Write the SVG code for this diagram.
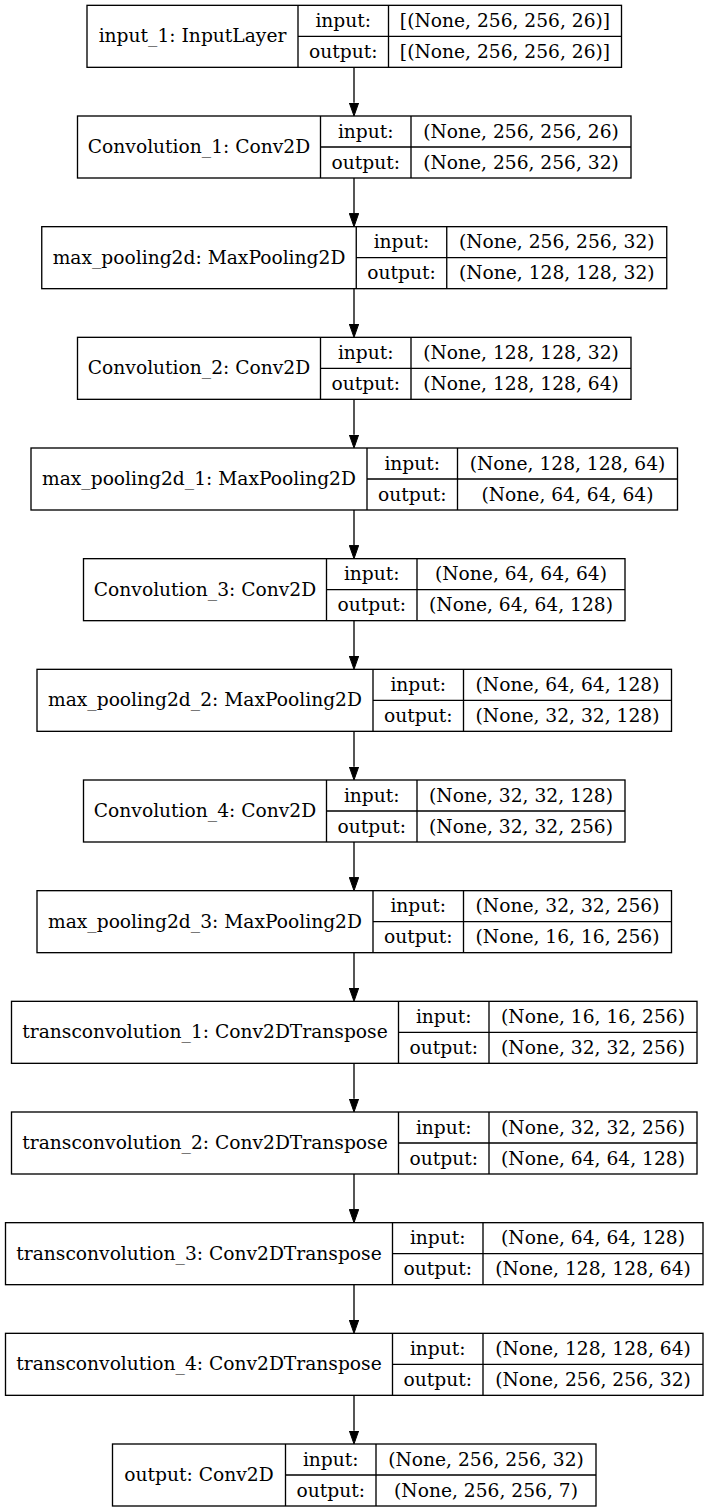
<svg xmlns="http://www.w3.org/2000/svg" width="708" height="1512" viewBox="0 0 708 1512">
<style>
.box{fill:#fff;stroke:#000;stroke-width:1.33}
.ln{fill:none;stroke:#000;stroke-width:1.33}
.t{font-family:"DejaVu Serif",serif;font-size:18.67px;text-anchor:middle;fill:#000}
.e{fill:none;stroke:#000;stroke-width:1.33;marker-end:url(#ah)}
</style>
<defs>
<marker id="ah" markerUnits="userSpaceOnUse" markerWidth="14" markerHeight="10" refX="0" refY="5" orient="auto" viewBox="0 0 14 10">
<path d="M0,0.3 L13.3,5 L0,9.7 z" fill="#000" stroke="#000" stroke-width="1"/>
</marker>
</defs>
<rect x="0" y="0" width="708" height="1512" fill="#fff"/>
<g id="connectors">
<path class="e" d="M354,67.33 V102.7"/>
<path class="e" d="M354,178 V213.37"/>
<path class="e" d="M354,288.67 V324.03"/>
<path class="e" d="M354,399.33 V434.7"/>
<path class="e" d="M354,510 V545.37"/>
<path class="e" d="M354,620.67 V656.03"/>
<path class="e" d="M354,731.33 V766.7"/>
<path class="e" d="M354,842 V877.37"/>
<path class="e" d="M354,952.67 V988.03"/>
<path class="e" d="M354,1063.33 V1098.7"/>
<path class="e" d="M354,1174 V1209.37"/>
<path class="e" d="M354,1284.67 V1320.03"/>
<path class="e" d="M354,1395.33 V1430.7"/>
</g>
<g id="n0" transform="translate(0,5.33)">
<rect class="box" x="87" y="0" width="534.5" height="62"/>
<path class="ln" d="M298,0V62M388.5,0V62M298,31H621.5"/>
<text class="t" x="192.5" y="37">input_1: InputLayer</text>
<text class="t" x="343.25" y="21.5">input:</text>
<text class="t" x="343.25" y="52.5">output:</text>
<text class="t" x="505" y="21.5">[(None, 256, 256, 26)]</text>
<text class="t" x="505" y="52.5">[(None, 256, 256, 26)]</text>
</g>
<g id="n1" transform="translate(0,116)">
<rect class="box" x="77.5" y="0" width="553.5" height="62"/>
<path class="ln" d="M320.5,0V62M411,0V62M320.5,31H631"/>
<text class="t" x="199" y="37">Convolution_1: Conv2D</text>
<text class="t" x="365.75" y="21.5">input:</text>
<text class="t" x="365.75" y="52.5">output:</text>
<text class="t" x="521" y="21.5">(None, 256, 256, 26)</text>
<text class="t" x="521" y="52.5">(None, 256, 256, 32)</text>
</g>
<g id="n2" transform="translate(0,226.67)">
<rect class="box" x="41.75" y="0" width="625" height="62"/>
<path class="ln" d="M356.25,0V62M446.75,0V62M356.25,31H666.75"/>
<text class="t" x="199" y="37">max_pooling2d: MaxPooling2D</text>
<text class="t" x="401.5" y="21.5">input:</text>
<text class="t" x="401.5" y="52.5">output:</text>
<text class="t" x="556.75" y="21.5">(None, 256, 256, 32)</text>
<text class="t" x="556.75" y="52.5">(None, 128, 128, 32)</text>
</g>
<g id="n3" transform="translate(0,337.33)">
<rect class="box" x="77.5" y="0" width="553.5" height="62"/>
<path class="ln" d="M320.5,0V62M411,0V62M320.5,31H631"/>
<text class="t" x="199" y="37">Convolution_2: Conv2D</text>
<text class="t" x="365.75" y="21.5">input:</text>
<text class="t" x="365.75" y="52.5">output:</text>
<text class="t" x="521" y="21.5">(None, 128, 128, 32)</text>
<text class="t" x="521" y="52.5">(None, 128, 128, 64)</text>
</g>
<g id="n4" transform="translate(0,448)">
<rect class="box" x="31" y="0" width="646.5" height="62"/>
<path class="ln" d="M367,0V62M457.5,0V62M367,31H677.5"/>
<text class="t" x="199" y="37">max_pooling2d_1: MaxPooling2D</text>
<text class="t" x="412.25" y="21.5">input:</text>
<text class="t" x="412.25" y="52.5">output:</text>
<text class="t" x="567.5" y="21.5">(None, 128, 128, 64)</text>
<text class="t" x="567.5" y="52.5">(None, 64, 64, 64)</text>
</g>
<g id="n5" transform="translate(0,558.67)">
<rect class="box" x="83.5" y="0" width="541.5" height="62"/>
<path class="ln" d="M326.5,0V62M417,0V62M326.5,31H625"/>
<text class="t" x="205" y="37">Convolution_3: Conv2D</text>
<text class="t" x="371.75" y="21.5">input:</text>
<text class="t" x="371.75" y="52.5">output:</text>
<text class="t" x="521" y="21.5">(None, 64, 64, 64)</text>
<text class="t" x="521" y="52.5">(None, 64, 64, 128)</text>
</g>
<g id="n6" transform="translate(0,669.33)">
<rect class="box" x="37" y="0" width="634.5" height="62"/>
<path class="ln" d="M373,0V62M463.5,0V62M373,31H671.5"/>
<text class="t" x="205" y="37">max_pooling2d_2: MaxPooling2D</text>
<text class="t" x="418.25" y="21.5">input:</text>
<text class="t" x="418.25" y="52.5">output:</text>
<text class="t" x="567.5" y="21.5">(None, 64, 64, 128)</text>
<text class="t" x="567.5" y="52.5">(None, 32, 32, 128)</text>
</g>
<g id="n7" transform="translate(0,780)">
<rect class="box" x="83.5" y="0" width="541.5" height="62"/>
<path class="ln" d="M326.5,0V62M417,0V62M326.5,31H625"/>
<text class="t" x="205" y="37">Convolution_4: Conv2D</text>
<text class="t" x="371.75" y="21.5">input:</text>
<text class="t" x="371.75" y="52.5">output:</text>
<text class="t" x="521" y="21.5">(None, 32, 32, 128)</text>
<text class="t" x="521" y="52.5">(None, 32, 32, 256)</text>
</g>
<g id="n8" transform="translate(0,890.67)">
<rect class="box" x="37" y="0" width="634.5" height="62"/>
<path class="ln" d="M373,0V62M463.5,0V62M373,31H671.5"/>
<text class="t" x="205" y="37">max_pooling2d_3: MaxPooling2D</text>
<text class="t" x="418.25" y="21.5">input:</text>
<text class="t" x="418.25" y="52.5">output:</text>
<text class="t" x="567.5" y="21.5">(None, 32, 32, 256)</text>
<text class="t" x="567.5" y="52.5">(None, 16, 16, 256)</text>
</g>
<g id="n9" transform="translate(0,1001.33)">
<rect class="box" x="11.5" y="0" width="685.5" height="62"/>
<path class="ln" d="M398.5,0V62M489,0V62M398.5,31H697"/>
<text class="t" x="205" y="37">transconvolution_1: Conv2DTranspose</text>
<text class="t" x="443.75" y="21.5">input:</text>
<text class="t" x="443.75" y="52.5">output:</text>
<text class="t" x="593" y="21.5">(None, 16, 16, 256)</text>
<text class="t" x="593" y="52.5">(None, 32, 32, 256)</text>
</g>
<g id="n10" transform="translate(0,1112)">
<rect class="box" x="11.5" y="0" width="685.5" height="62"/>
<path class="ln" d="M398.5,0V62M489,0V62M398.5,31H697"/>
<text class="t" x="205" y="37">transconvolution_2: Conv2DTranspose</text>
<text class="t" x="443.75" y="21.5">input:</text>
<text class="t" x="443.75" y="52.5">output:</text>
<text class="t" x="593" y="21.5">(None, 32, 32, 256)</text>
<text class="t" x="593" y="52.5">(None, 64, 64, 128)</text>
</g>
<g id="n11" transform="translate(0,1222.67)">
<rect class="box" x="5.5" y="0" width="697.5" height="62"/>
<path class="ln" d="M392.5,0V62M483,0V62M392.5,31H703"/>
<text class="t" x="199" y="37">transconvolution_3: Conv2DTranspose</text>
<text class="t" x="437.75" y="21.5">input:</text>
<text class="t" x="437.75" y="52.5">output:</text>
<text class="t" x="593" y="21.5">(None, 64, 64, 128)</text>
<text class="t" x="593" y="52.5">(None, 128, 128, 64)</text>
</g>
<g id="n12" transform="translate(0,1333.33)">
<rect class="box" x="5.5" y="0" width="697.5" height="62"/>
<path class="ln" d="M392.5,0V62M483,0V62M392.5,31H703"/>
<text class="t" x="199" y="37">transconvolution_4: Conv2DTranspose</text>
<text class="t" x="437.75" y="21.5">input:</text>
<text class="t" x="437.75" y="52.5">output:</text>
<text class="t" x="593" y="21.5">(None, 128, 128, 64)</text>
<text class="t" x="593" y="52.5">(None, 256, 256, 32)</text>
</g>
<g id="n13" transform="translate(0,1444)">
<rect class="box" x="112.5" y="0" width="483.5" height="62"/>
<path class="ln" d="M285.5,0V62M376,0V62M285.5,31H596"/>
<text class="t" x="199" y="37">output: Conv2D</text>
<text class="t" x="330.75" y="21.5">input:</text>
<text class="t" x="330.75" y="52.5">output:</text>
<text class="t" x="486" y="21.5">(None, 256, 256, 32)</text>
<text class="t" x="486" y="52.5">(None, 256, 256, 7)</text>
</g>
</svg>
